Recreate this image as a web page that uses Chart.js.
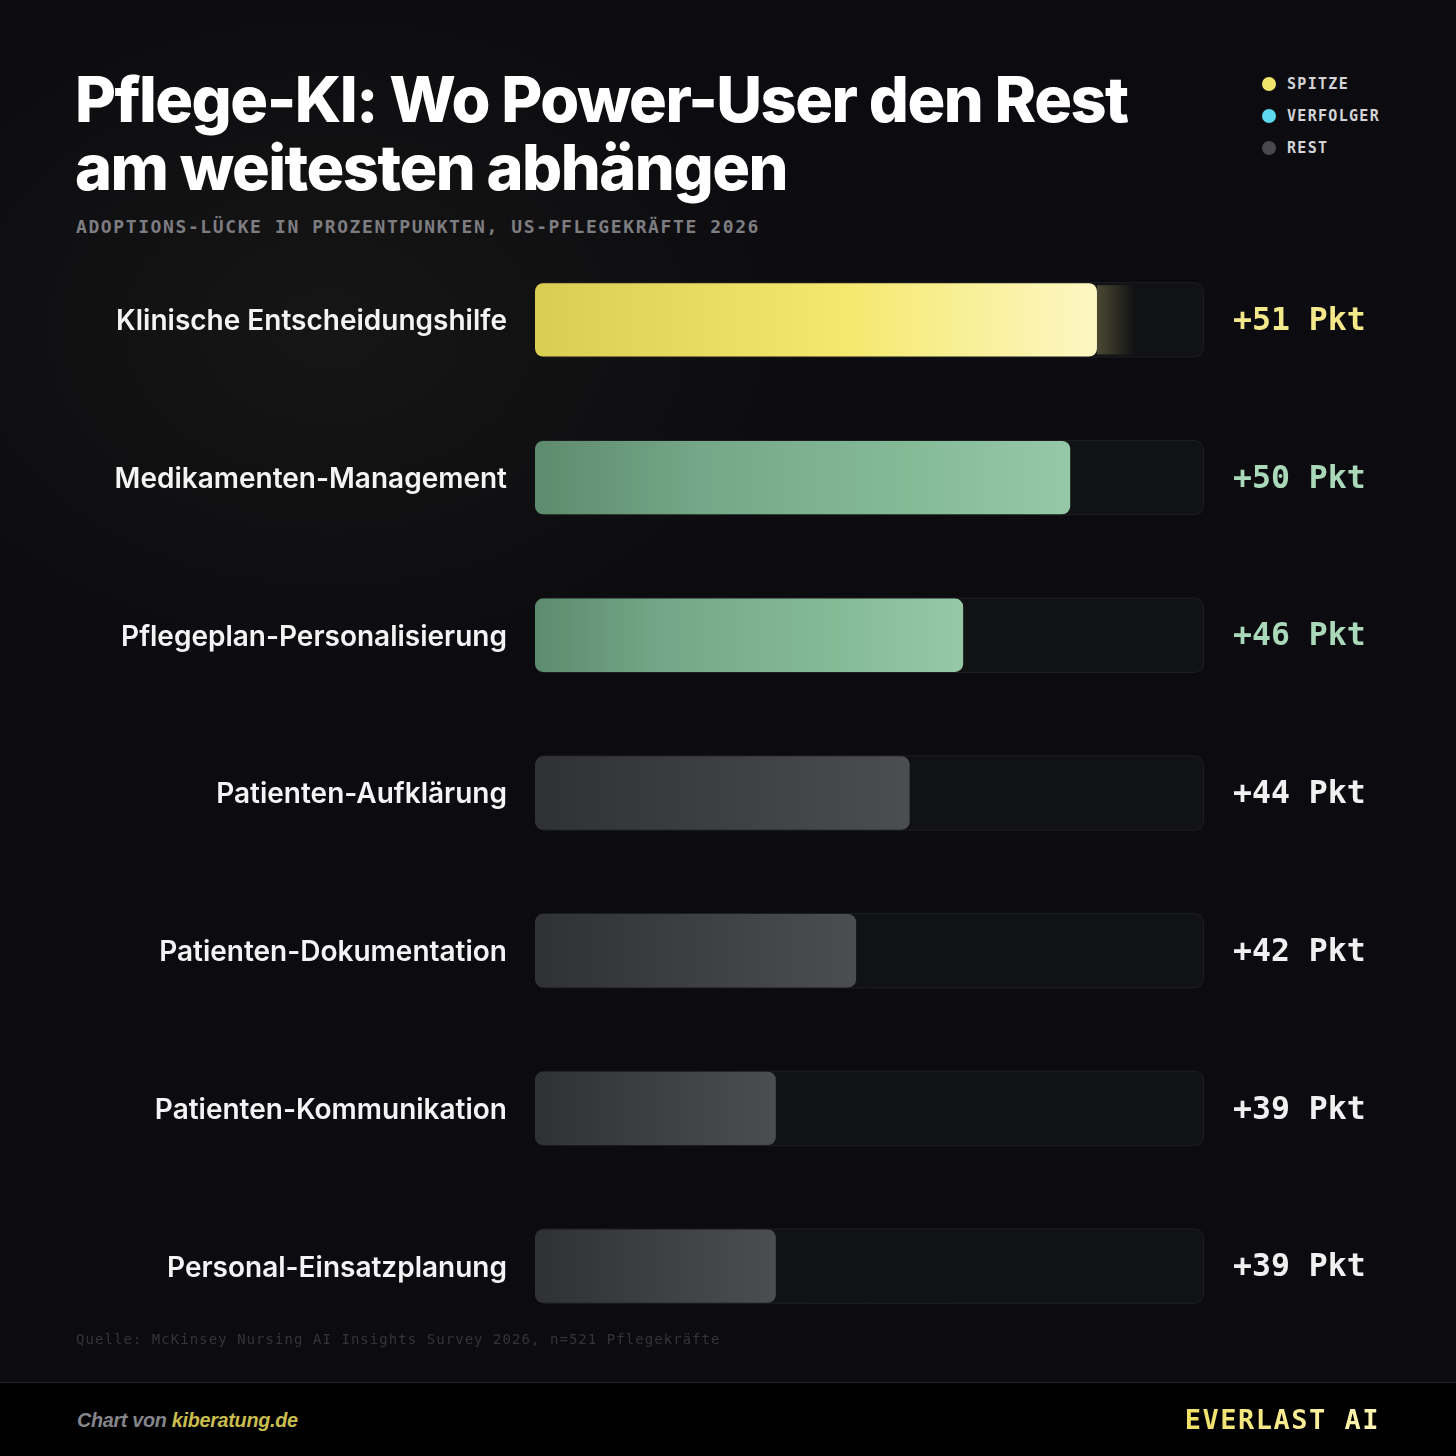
<!DOCTYPE html>
<html>
<head>
<meta charset="utf-8">
<script src="https://cdn.jsdelivr.net/npm/chart.js@4.4.1/dist/chart.umd.min.js"></script>
<style>
  html, body { margin: 0; padding: 0; }
  body {
    width: 1456px; height: 1456px; position: relative; overflow: hidden;
    background: #0c0c10;
    background-image: radial-gradient(ellipse 700px 500px at 330px 330px, rgba(40,40,30,0.35), rgba(12,12,16,0) 70%);
    font-family: Inter, "Noto Sans", sans-serif;
  }
  #title {
    position: absolute; left: 75px; top: 65px; margin: 0;
    color: #ffffff; font-family: Inter, sans-serif; font-weight: 800;
    font-size: 63px; line-height: 68px; letter-spacing: -1.5px;
  }
  #subtitle {
    position: absolute; left: 76px; top: 216px;
    color: #7d7d82; font-family: "DejaVu Sans Mono", monospace; font-weight: 700;
    font-size: 18px; letter-spacing: 1.6px;
  }
  #legend { position: absolute; left: 1262px; top: 68px; }
  .li { display: flex; align-items: center; height: 32px; color: #d4d4d8;
        font-family: "DejaVu Sans Mono", monospace; font-weight: 700; font-size: 15px; letter-spacing: 1.3px; }
  .dot { width: 14px; height: 14px; border-radius: 50%; margin-right: 11px; }
  #chartWrap { position: absolute; left: 0; top: 241px; width: 1456px; height: 1104px; }
  #source {
    position: absolute; left: 76px; top: 1331px;
    color: #34343a; font-family: "DejaVu Sans Mono", monospace; font-size: 14px; letter-spacing: 1.05px;
  }
  #footer {
    position: absolute; left: 0; top: 1382px; width: 1456px; height: 74px;
    background: #000; border-top: 1px solid #222226;
  }
  #credit {
    position: absolute; left: 77px; top: 26px; font-family: "Liberation Sans", Arial, sans-serif;
    font-style: italic; font-weight: 700; font-size: 19.8px; color: #85858a; letter-spacing: -0.3px;
  }
  #credit span { color: #c9bd4e; }
  #brand {
    position: absolute; right: 76px; top: 21px; font-family: "DejaVu Sans Mono", monospace;
    font-weight: 700; font-size: 27px; letter-spacing: 1.5px;
    background: linear-gradient(90deg, #efe065, #fff5b5); -webkit-background-clip: text; background-clip: text; color: transparent;
  }
</style>
</head>
<body>
<h1 id="title">Pflege-KI: Wo Power-User den Rest<br>am weitesten abhängen</h1>
<div id="subtitle">ADOPTIONS-LÜCKE IN PROZENTPUNKTEN, US-PFLEGEKRÄFTE 2026</div>
<div id="legend"></div>
<div id="chartWrap"><canvas id="c" width="1456" height="1104"></canvas></div>
<div id="source">Quelle: McKinsey Nursing AI Insights Survey 2026, n=521 Pflegekräfte</div>
<div id="footer">
  <div id="credit">Chart von <span>kiberatung.de</span></div>
  <div id="brand">EVERLAST AI</div>
</div>
<script>
// ---- data ----
const categories = [
  "Klinische Entscheidungshilfe",
  "Medikamenten-Management",
  "Pflegeplan-Personalisierung",
  "Patienten-Aufklärung",
  "Patienten-Dokumentation",
  "Patienten-Kommunikation",
  "Personal-Einsatzplanung"
];
const gapValues = [51, 50, 46, 44, 42, 39, 39];
const groups = ["spitze", "verfolger", "verfolger", "rest", "rest", "rest", "rest"];
const legendLabels = ["SPITZE", "VERFOLGER", "REST"];
const legendColors = ["#f2e46a", "#5ed8ef", "#48484e"];
const axisMin = 30, axisMax = 55;

// ---- styles ----
const gradStops = {
  spitze: [[0, "#dbcd52"], [0.55, "#f5e86d"], [1, "#fdf7c4"]],
  verfolger: [[0, "#5d8b6d"], [0.3, "#74a787"], [0.7, "#85ba97"], [1, "#95c8a7"]],
  rest: [[0, "#2f3132"], [1, "#4b4d4f"]]
};
const labelColors = { spitze: "#f3e98a", verfolger: "#a9d9b9", rest: "#f0f0f0" };

// legend
const lg = document.getElementById("legend");
legendLabels.forEach((t, i) => {
  const d = document.createElement("div"); d.className = "li";
  d.innerHTML = '<span class="dot" style="background:' + legendColors[i] + '"></span>' + t;
  lg.appendChild(d);
});

function roundRect(ctx, x, y, w, h, r) {
  ctx.beginPath();
  ctx.moveTo(x + r, y);
  ctx.lineTo(x + w - r, y); ctx.quadraticCurveTo(x + w, y, x + w, y + r);
  ctx.lineTo(x + w, y + h - r); ctx.quadraticCurveTo(x + w, y + h, x + w - r, y + h);
  ctx.lineTo(x + r, y + h); ctx.quadraticCurveTo(x, y + h, x, y + h - r);
  ctx.lineTo(x, y + r); ctx.quadraticCurveTo(x, y, x + r, y);
  ctx.closePath();
}

const trackPlugin = {
  id: "tracks",
  beforeDatasetsDraw(chart) {
    const { ctx, scales } = chart;
    const meta = chart.getDatasetMeta(0);
    ctx.save();
    meta.data.forEach((bar) => {
      const h = bar.height + 2;
      const y = bar.y - h / 2;
      const x0 = scales.x.getPixelForValue(axisMin);
      const x1 = scales.x.getPixelForValue(axisMax);
      roundRect(ctx, x0 + 0.5, y + 0.5, x1 - x0 - 1, h - 1, 10);
      ctx.fillStyle = "#111214";
      ctx.fill();
      ctx.strokeStyle = "#1e1f22";
      ctx.lineWidth = 1;
      ctx.stroke();
    });
    ctx.restore();
  },
  afterDatasetsDraw(chart) {
    const { ctx } = chart;
    const meta = chart.getDatasetMeta(0);
    ctx.save();
    meta.data.forEach((bar, i) => {
      if (groups[i] === "spitze") {
        const xe = bar.x;
        const g = ctx.createLinearGradient(xe, 0, xe + 38, 0);
        g.addColorStop(0, "rgba(245,235,140,0.25)");
        g.addColorStop(1, "rgba(245,235,140,0)");
        ctx.fillStyle = g;
        ctx.fillRect(xe, bar.y - bar.height / 2 + 2, 38, bar.height - 4);
      }
      ctx.font = "700 31.5px 'DejaVu Sans Mono', monospace";
      ctx.fillStyle = labelColors[groups[i]];
      ctx.textAlign = "left";
      ctx.textBaseline = "middle";
      ctx.fillText("+" + gapValues[i] + " Pkt", 1233, bar.y + 2);
    });
    ctx.restore();
  }
};

new Chart(document.getElementById("c"), {
  type: "bar",
  data: {
    labels: categories,
    datasets: [{
      data: gapValues,
      base: axisMin,
      backgroundColor: (c) => {
        const chart = c.chart;
        const area = chart.chartArea;
        if (!area || c.dataIndex === undefined) return "#444";
        const x0 = chart.scales.x.getPixelForValue(axisMin);
        const x1 = chart.scales.x.getPixelForValue(gapValues[c.dataIndex]);
        const g = chart.ctx.createLinearGradient(x0, 0, x1, 0);
        gradStops[groups[c.dataIndex]].forEach(s => g.addColorStop(s[0], s[1]));
        return g;
      },
      borderRadius: { topLeft: 8, topRight: 8, bottomLeft: 8, bottomRight: 8 },
      borderSkipped: false,
      barPercentage: 0.465,
      categoryPercentage: 1
    }]
  },
  options: {
    indexAxis: "y",
    responsive: false,
    animation: false,
    layout: { padding: { left: 0, right: 252, top: 0, bottom: 0 } },
    plugins: { legend: { display: false }, tooltip: { enabled: false } },
    scales: {
      x: { min: axisMin, max: axisMax, display: false },
      y: {
        grid: { display: false, drawTicks: false },
        border: { display: false },
        ticks: {
          color: "#f4f4f5",
          font: { family: "Inter", weight: "600", size: 28 },
          padding: 28,
          labelOffset: 2
        },
        afterFit(scale) {
          scale.width = 535;
          scale.paddingTop = 0;
          scale.paddingBottom = 0;
        }
      }
    }
  },
  plugins: [trackPlugin]
});
</script>
</body>
</html>
